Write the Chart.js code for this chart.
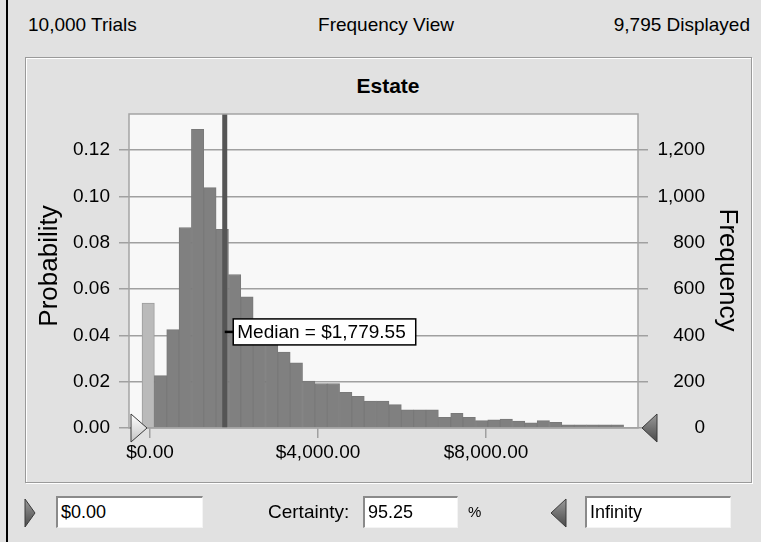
<!DOCTYPE html>
<html>
<head>
<meta charset="utf-8">
<script src="https://cdn.jsdelivr.net/npm/chart.js@4.4.0/dist/chart.umd.min.js"></script>
<style>
  html, body { margin: 0; padding: 0; background: #e1e1e1; }
  #wrap { position: relative; width: 761px; height: 542px; overflow: hidden;
          font-family: 'Liberation Sans', Arial, sans-serif; color: #000; }
  .edge { position: absolute; left: 6px; top: 0; width: 2px; height: 542px; background: #000; }
  .panel { position: absolute; left: 25px; top: 57px; width: 725px; height: 424px;
           border: 1px solid #9a9a9a; box-shadow: inset 1px 1px 0 #fff, 1px 1px 0 #fff; }
  .txt { position: absolute; font-size: 19px; line-height: 22px; white-space: nowrap; }
  .title { position: absolute; left: 388px; top: 74px; transform: translateX(-50%);
           font-size: 21px; font-weight: bold; line-height: 24px; }
  .box { position: absolute; top: 496px; height: 32px; box-sizing: border-box; background: #fff;
         border-top: 2px solid #8a8a8a; border-left: 2px solid #8a8a8a;
         border-right: 1px solid #f4f4f4; border-bottom: 1px solid #f4f4f4;
         font-size: 18px; line-height: 28px; padding-left: 3px; white-space: nowrap; }
  canvas { position: absolute; left: 0; top: 0; }
</style>
</head>
<body>
<div id="wrap">
  <div class="edge"></div>
  <div class="panel"></div>
  <div class="txt" style="left:28px; top:14px;">10,000 Trials</div>
  <div class="txt" style="left:386px; top:14px; transform:translateX(-50%);">Frequency View</div>
  <div class="txt" style="right:11px; top:14px;">9,795 Displayed</div>
  <div class="title">Estate</div>
  <canvas id="mainChart" width="761" height="542"></canvas>
  <div class="box" style="left:56px; width:147px;">$0.00</div>
  <div class="txt" style="left:268px; top:501px;">Certainty:</div>
  <div class="box" style="left:363px; width:95px;">95.25</div>
  <div class="txt" style="left:468px; top:501px; font-size:15px;">%</div>
  <div class="box" style="left:585px; width:146px;">Infinity</div>
</div>
<script>
// --- dữ liệu ---
const binCenters = [-43, 251, 545, 839, 1133, 1427, 1721, 2015, 2309, 2603,
                    2897, 3191, 3485, 3779, 4073, 4367, 4661, 4955, 5249, 5543,
                    5837, 6131, 6425, 6719, 7013, 7307, 7601, 7895, 8189, 8483,
                    8777, 9071, 9365, 9659, 9953, 10247, 10541, 10835, 11129];
const frequencies = [540, 226, 425, 866, 1290, 1038, 858, 663, 566, 450,
                     385, 328, 281, 203, 192, 192, 154, 137, 116, 116,
                     101, 78, 78, 78, 46, 63, 46, 32, 35, 38,
                     30, 22, 32, 24, 14, 14, 14, 14, 14];
const probTicks = [0, 0.02, 0.04, 0.06, 0.08, 0.10, 0.12];
const freqTicks = [0, 200, 400, 600, 800, 1000, 1200];
const valueTicks = [0, 4000, 8000];
const trials = 10000;
const medianValue = 1779.55;
const certaintyMin = 0;

// khung trục
const X_MIN = -500, X_MAX = 11619;
const FREQ_MAX = 1356;
const FONT = '"Liberation Sans", Arial, sans-serif';

function money(v) {
    return '$' + v.toLocaleString('en-US', { minimumFractionDigits: 2, maximumFractionDigits: 2 });
}

// vẽ tam giác (con trỏ kéo)
function tri(ctx, tipX, tipY, baseX, half, light) {
    const g = ctx.createLinearGradient(0, tipY - half, 0, tipY + half);
    if (light) { g.addColorStop(0, '#ffffff'); g.addColorStop(1, '#c4c4c4'); }
    else { g.addColorStop(0, '#9a9a9a'); g.addColorStop(1, '#4a4a4a'); }
    ctx.beginPath();
    ctx.moveTo(tipX, tipY);
    ctx.lineTo(baseX, tipY - half);
    ctx.lineTo(baseX, tipY + half);
    ctx.closePath();
    ctx.fillStyle = g;
    ctx.fill();
    ctx.strokeStyle = '#3a3a3a';
    ctx.lineWidth = 1;
    ctx.stroke();
}

const plotDecor = {
    id: 'plotDecor',
    beforeDraw(chart) {
        const { ctx, chartArea: a } = chart;
        ctx.save();
        ctx.fillStyle = '#f8f8f8';
        ctx.fillRect(a.left, a.top, a.right - a.left, a.bottom - a.top);
        ctx.restore();
    },
    afterDatasetsDraw(chart) {
        const { ctx, chartArea: a, scales } = chart;
        const mx = scales.x.getPixelForValue(medianValue);
        ctx.save();
        // đường median
        ctx.strokeStyle = '#555555';
        ctx.lineWidth = 5;
        ctx.beginPath();
        ctx.moveTo(mx, a.top);
        ctx.lineTo(mx, a.bottom);
        ctx.stroke();

        // nhãn median
        const ly = a.top + (a.bottom - a.top) * 0.694;
        const label = 'Median = ' + money(medianValue);
        ctx.font = '19px ' + FONT;
        const tw = ctx.measureText(label).width;
        const bx = mx + 8.5, bw = tw + 14, bh = 26;
        ctx.strokeStyle = '#000';
        ctx.lineWidth = 2.5;
        ctx.beginPath();
        ctx.moveTo(mx, ly);
        ctx.lineTo(bx, ly);
        ctx.stroke();
        ctx.fillStyle = '#fff';
        ctx.fillRect(bx, ly - bh / 2, bw, bh);
        ctx.lineWidth = 1.5;
        ctx.strokeRect(bx, ly - bh / 2, bw, bh);
        ctx.fillStyle = '#000';
        ctx.textBaseline = 'middle';
        ctx.fillText(label, bx + 4, ly + 1);

        // viền vùng vẽ
        ctx.strokeStyle = '#a4a4a4';
        ctx.lineWidth = 1.5;
        ctx.strokeRect(a.left, a.top, a.right - a.left, a.bottom - a.top);
        ctx.restore();
    },
    afterDraw(chart) {
        const { ctx, chartArea: a, scales } = chart;
        ctx.save();
        // con trỏ trên trục x
        const x0 = scales.x.getPixelForValue(certaintyMin);
        tri(ctx, x0 - 3, a.bottom, x0 - 19, 14, true);
        tri(ctx, a.right + 4, a.bottom, a.right + 19, 14, false);
        // con trỏ dưới chân
        tri(ctx, 35, 513, 25, 14, false);
        tri(ctx, 551, 513, 566, 14, false);

        // tiêu đề trục
        ctx.fillStyle = '#000';
        ctx.font = '26px ' + FONT;
        ctx.textAlign = 'center';
        ctx.textBaseline = 'middle';
        ctx.save();
        ctx.translate(50, 266);
        ctx.rotate(-Math.PI / 2);
        ctx.fillText('Probability', 0, 0);
        ctx.restore();
        ctx.save();
        ctx.translate(727, 270);
        ctx.rotate(Math.PI / 2);
        ctx.fillText('Frequency', 0, 0);
        ctx.restore();
        ctx.restore();
    }
};

function initChart() {
    const ctx = document.getElementById('mainChart').getContext('2d');
    new Chart(ctx, {
        type: 'bar',
        data: {
            datasets: [{
                label: 'Estate',
                data: binCenters.map((c, i) => ({ x: c, y: frequencies[i] })),
                backgroundColor: (c) => binCenters[c.dataIndex] < certaintyMin ? '#bababa' : '#808080',
                borderColor: (c) => binCenters[c.dataIndex] < certaintyMin ? '#9c9c9c' : '#797979',
                borderWidth: 1,
                barPercentage: 1,
                categoryPercentage: 1,
                xAxisID: 'x',
                yAxisID: 'y1'
            }]
        },
        options: {
            responsive: false,
            animation: false,
            events: [],
            layout: { padding: { left: 0, right: 56, top: 114, bottom: 0 } },
            plugins: { legend: { display: false }, tooltip: { enabled: false } },
            scales: {
                x: {
                    type: 'linear',
                    position: 'bottom',
                    min: X_MIN, max: X_MAX,
                    offset: false,
                    afterBuildTicks: s => { s.ticks = valueTicks.map(v => ({ value: v })); },
                    afterFit: s => { s.height = 114; },
                    grid: { offset: false, drawOnChartArea: false, tickLength: 10, color: '#a0a0a0', lineWidth: 1.5 },
                    border: { display: false },
                    ticks: { color: '#000', font: { size: 19, family: FONT }, padding: 3, maxRotation: 0,
                             callback: v => money(v) }
                },
                y: {
                    type: 'linear',
                    position: 'left',
                    min: 0, max: FREQ_MAX / trials,
                    afterBuildTicks: s => { s.ticks = probTicks.map(v => ({ value: v })); },
                    afterFit: s => { s.width = 129; },
                    grid: { color: '#a0a0a0', lineWidth: 1.5, tickLength: 10 },
                    border: { display: false },
                    ticks: { color: '#000', font: { size: 19, family: FONT }, padding: 9,
                             callback: v => v.toFixed(2) }
                },
                y1: {
                    type: 'linear',
                    position: 'right',
                    min: 0, max: FREQ_MAX,
                    afterBuildTicks: s => { s.ticks = freqTicks.map(v => ({ value: v })); },
                    afterFit: s => { s.width = 67; },
                    grid: { drawOnChartArea: false, color: '#a0a0a0', lineWidth: 1.5, tickLength: 10 },
                    border: { display: false },
                    ticks: { color: '#000', font: { size: 19, family: FONT }, padding: 9, crossAlign: 'far',
                             callback: v => v.toLocaleString('en-US') }
                }
            }
        },
        plugins: [plotDecor]
    });
}

document.addEventListener('DOMContentLoaded', initChart);
</script>
</body>
</html>
